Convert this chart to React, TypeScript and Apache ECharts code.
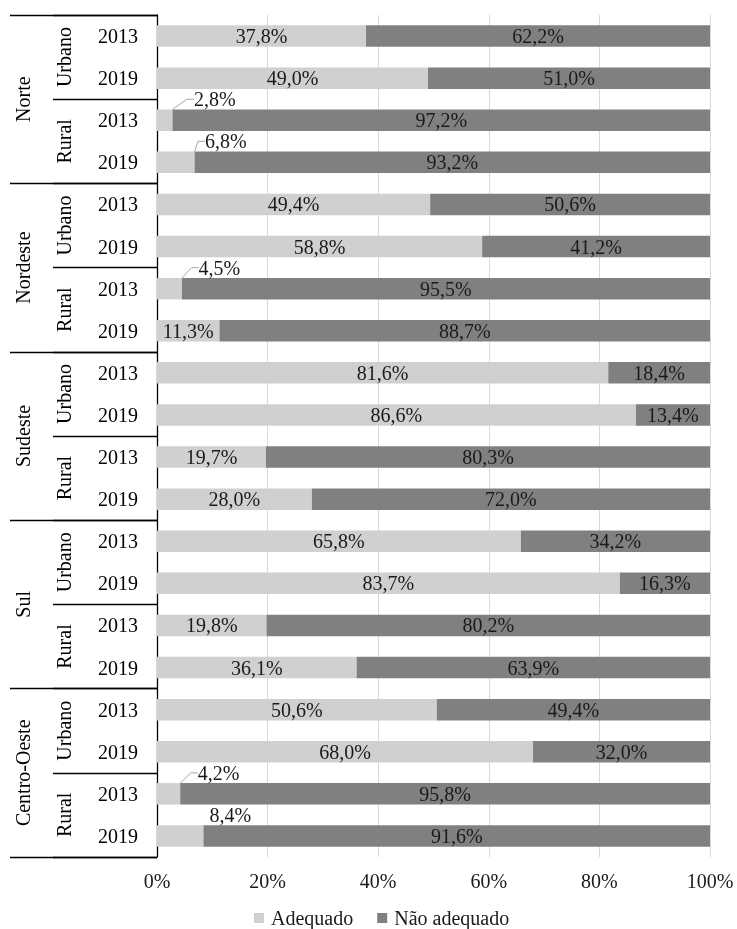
import React, { useEffect, useRef } from "react";
import * as echarts from "echarts";

const regions = ["Norte", "Nordeste", "Sudeste", "Sul", "Centro-Oeste"];
const areas = ["Urbano", "Rural"];
const years = ["2013", "2019"];
const seriesNames = ["Adequado", "Não adequado"];
const adequado = [37.8, 49.0, 2.8, 6.8, 49.4, 58.8, 4.5, 11.3, 81.6, 86.6, 19.7, 28.0, 65.8, 83.7, 19.8, 36.1, 50.6, 68.0, 4.2, 8.4];
const naoAdequado = [62.2, 51.0, 97.2, 93.2, 50.6, 41.2, 95.5, 88.7, 18.4, 13.4, 80.3, 72.0, 34.2, 16.3, 80.2, 63.9, 49.4, 32.0, 95.8, 91.6];
const xTicks = [0, 20, 40, 60, 80, 100];

const FONT = "'Liberation Serif', 'Times New Roman', 'DejaVu Serif', serif";
const fmt = (v: number) => v.toFixed(1).replace(".", ",") + "%";

export default function App() {
  const ref = useRef<HTMLDivElement>(null);
  useEffect(() => {
    if (!ref.current) return;
    const chart = echarts.init(ref.current, undefined, { renderer: "svg" });
    const areaCats: string[] = [];
    regions.forEach(() => areas.forEach((a) => areaCats.push(a)));
    const yearCats: string[] = [];
    areaCats.forEach(() => years.forEach((y) => yearCats.push(y)));

    const adequadoData = adequado.map((v) => {
      if (v < 10) {
        return {
          value: v,
          label: { show: true, position: "inside" },
          labelLine: { show: v < 8, length2: 7, lineStyle: { color: "#a6a6a6", width: 1 } },
        };
      }
      return { value: v };
    });

    chart.setOption({
      animation: false,
      textStyle: { fontFamily: FONT },
      grid: { left: 157, right: 27, top: 15, bottom: 72, containLabel: false },
      xAxis: {
        type: "value",
        min: xTicks[0],
        max: xTicks[xTicks.length - 1],
        interval: 20,
        axisLine: { show: false },
        axisTick: { show: false },
        splitLine: { show: true, lineStyle: { color: "#d9d9d9", width: 1 } },
        axisLabel: { formatter: "{value}%", fontFamily: FONT, fontSize: 20, color: "#1a1a1a", margin: 14 },
      },
      yAxis: [
        {
          type: "category",
          data: yearCats,
          inverse: true,
          position: "left",
          axisLine: { show: true, onZero: false, lineStyle: { color: "#000", width: 1.3 } },
          axisTick: { show: false },
          axisLabel: { interval: 0, fontFamily: FONT, fontSize: 20, color: "#000", margin: 19 },
        },
        {
          type: "category",
          data: areaCats,
          inverse: true,
          position: "left",
          offset: 0,
          axisLine: { show: false, onZero: false },
          axisTick: { show: true, interval: 0, length: 104, lineStyle: { color: "#000", width: 1.3 } },
          axisLabel: { interval: 0, rotate: 90, fontFamily: FONT, fontSize: 20, color: "#000", margin: 83 },
        },
        {
          type: "category",
          data: regions,
          inverse: true,
          position: "left",
          offset: 0,
          axisLine: { show: false, onZero: false },
          axisTick: { show: true, interval: 0, length: 147, lineStyle: { color: "#000", width: 1.3 } },
          axisLabel: { interval: 0, rotate: 90, fontFamily: FONT, fontSize: 20, color: "#000", margin: 124 },
        },
      ],
      legend: {
        data: seriesNames,
        left: 249,
        top: 903,
        icon: "rect",
        itemWidth: 10,
        itemHeight: 10,
        itemGap: 24,
        textStyle: { fontFamily: FONT, fontSize: 20, color: "#1a1a1a", padding: [0, 0, 0, 2] },
      },
      series: [
        {
          name: seriesNames[0],
          type: "bar",
          stack: "total",
          yAxisIndex: 0,
          barWidth: "51%",
          itemStyle: { color: "#d0d0d0" },
          label: { show: true, position: "inside", formatter: (p: any) => fmt(p.value), fontFamily: FONT, fontSize: 20, color: "#1a1a1a" },
          labelLayout: (p: any) => {
            const v = adequado[p.dataIndex];
            if (v < 10) return { dx: 50, dy: -21 };
            return {};
          },
          data: adequadoData,
        },
        {
          name: seriesNames[1],
          type: "bar",
          stack: "total",
          yAxisIndex: 0,
          barWidth: "51%",
          itemStyle: { color: "#808080" },
          label: { show: true, position: "inside", formatter: (p: any) => fmt(p.value), fontFamily: FONT, fontSize: 20, color: "#1a1a1a" },
          data: naoAdequado,
        },
      ],
    });
    return () => chart.dispose();
  }, []);
  return <div ref={ref} style={{ position: "fixed", left: 0, top: 0, width: 737, height: 929 }} />;
}
